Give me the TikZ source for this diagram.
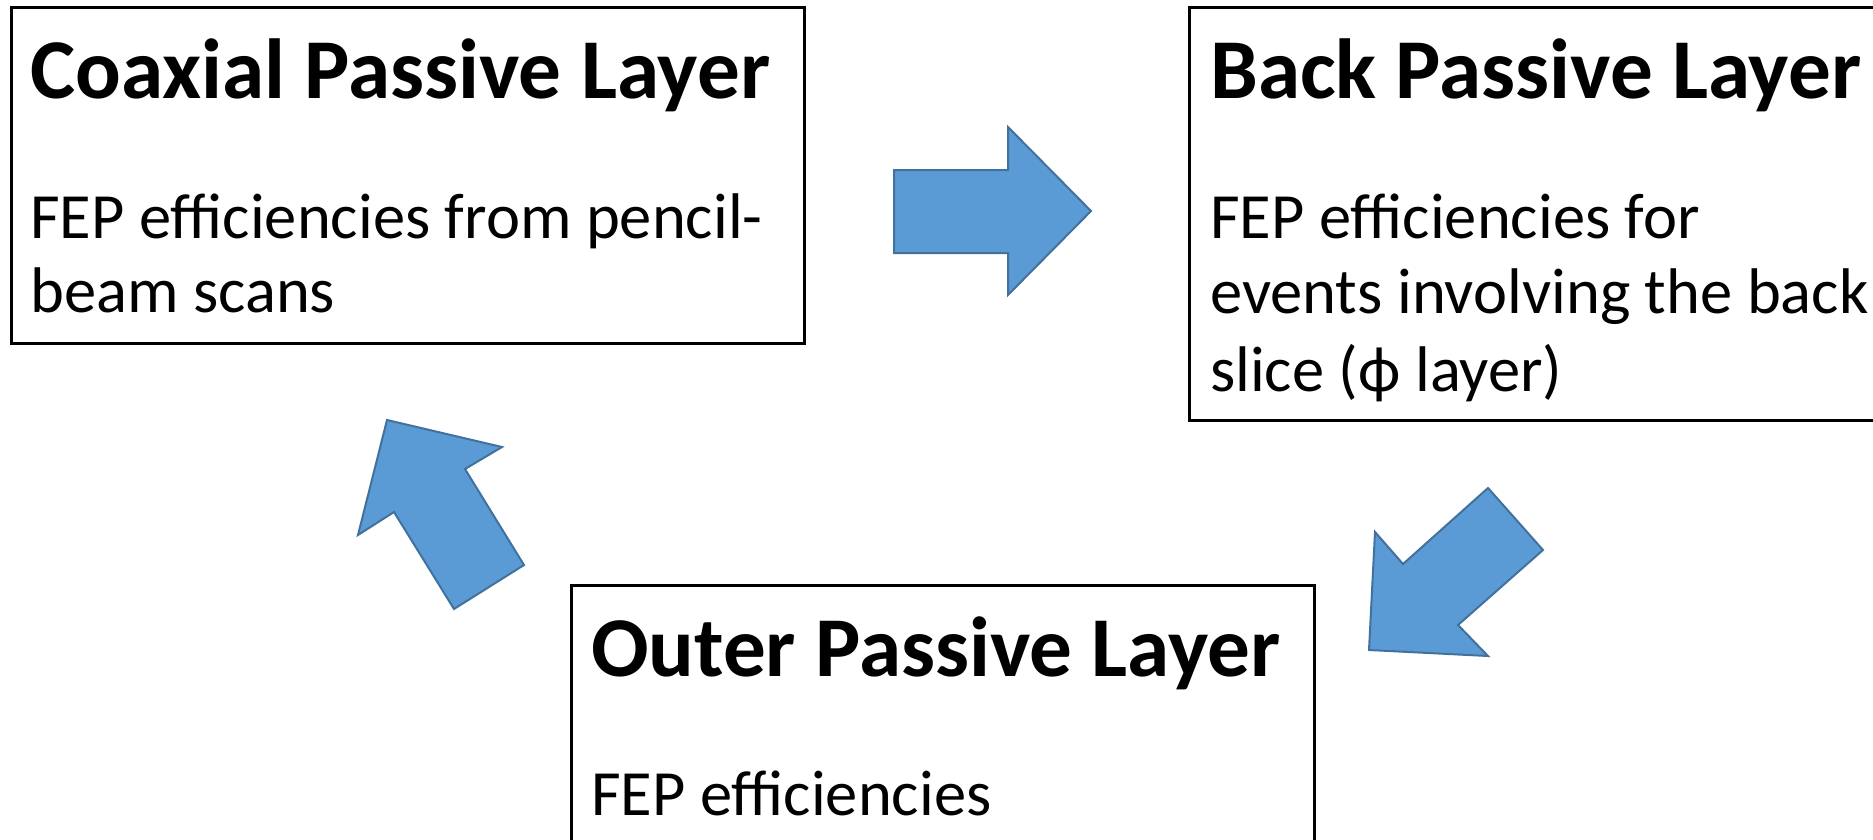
\documentclass[tikz,border=0pt]{standalone}
\usepackage{fontspec}
\setmainfont{Carlito}
\begin{document}
\begin{tikzpicture}[x=1pt,y=-1pt,
  layerbox/.style={draw=black,line width=2.5pt,fill=none,rectangle,anchor=north west,inner sep=0pt},
  titletext/.style={anchor=base west,inner sep=0pt,font=\fontsize{85.2}{102}\bfseries\selectfont},
  bodytext/.style={anchor=base west,inner sep=0pt,font=\fontsize{64.5}{78}\selectfont},
  blockarrow/.style={fill=arrowfill,draw=arrowline,line width=2pt,line join=miter}]
\definecolor{arrowfill}{HTML}{5B9BD5}
\definecolor{arrowline}{HTML}{41719C}
\useasboundingbox (0,0) rectangle (1873,839);

% layer boxes
\node[layerbox,minimum width=793pt,minimum height=336pt] (coax) at (10,6) {};
\node[layerbox,minimum width=720pt,minimum height=413pt] (back) at (1188,6) {};
\node[layerbox,minimum width=743pt,minimum height=320pt] (outer) at (570,584) {};

% coaxial layer text
\node[titletext] (coaxT) at (30,98) {Coaxial Passive Layer};
\node[bodytext] (coaxL1) at (30,238) {FEP efficiencies from pencil-};
\node[bodytext] (coaxL2) at (30,312) {beam scans};

% back layer text
\node[titletext] (backT) at (1210,98) {Back Passive Layer};
\node[bodytext] (backL1) at (1210,238) {FEP efficiencies for};
\node[bodytext] (backL2) at (1210,313) {events involving the back};
\node[bodytext] (backL3) at (1210,391) {slice (ϕ layer)};

% outer layer text
\node[titletext] (outerT) at (591,676) {Outer Passive Layer};
\node[bodytext] (outerL1) at (591,815) {FEP efficiencies};

% block arrows between the layers
\draw[blockarrow] (894,170) -- (1008,170) -- (1008,127) -- (1091,211)
  -- (1008,295) -- (1008,253) -- (894,253) -- cycle;
\draw[blockarrow] (1488,488) -- (1543,550) -- (1458,625) -- (1488,656)
  -- (1369,650) -- (1375,532) -- (1403,564) -- cycle;
\draw[blockarrow] (387,420) -- (502,447) -- (465,469) -- (524,565)
  -- (454,609) -- (394,512) -- (358,535) -- cycle;
\end{tikzpicture}
\end{document}
